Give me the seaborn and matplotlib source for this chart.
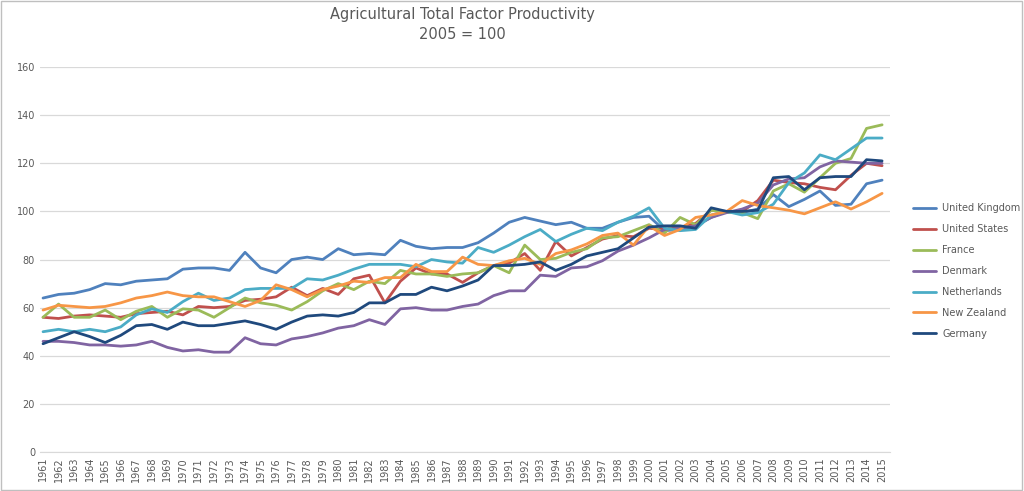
import pandas as pd
import matplotlib
matplotlib.use("Agg")
import matplotlib.pyplot as plt
import seaborn as sns
from matplotlib.patches import Rectangle

years = list(range(1961, 2016))

united_kingdom = [64, 65.5, 66, 67.5, 70, 69.5, 71, 71.5, 72, 76,
                  76.5, 76.5, 75.5, 83, 76.5, 74.5, 80, 81, 80, 84.5,
                  82, 82.5, 82, 88, 85.5, 84.5, 85, 85, 87, 91,
                  95.5, 97.5, 96, 94.5, 95.5, 93, 93, 95.5, 97.5, 98,
                  92, 92.5, 94, 97.5, 100, 99.5, 101, 107, 102, 105,
                  108.5, 102.5, 103, 111.5, 113]
united_states = [56, 55.5, 56.5, 57, 56.5, 56, 57.5, 58, 58.5, 57,
                 60.5, 60, 60.5, 63, 63.5, 64.5, 68.5, 65, 68, 65.5,
                 72, 73.5, 62, 71, 76.5, 74, 74, 70.5, 74.5, 77.5,
                 78.5, 82.5, 75.5, 87.5, 81.5, 85, 88.5, 90, 89.5, 93,
                 92.5, 93.5, 95, 100.5, 100, 100, 104.5, 113, 112, 111.5,
                 110, 109, 115, 120, 119]
france = [56, 61.5, 56, 56, 59, 55, 58.5, 60.5, 56, 59.5,
          59, 56, 60, 64, 62, 61, 59, 62.5, 67, 70,
          67.5, 71, 70, 75.5, 74, 74, 73, 74, 74.5, 77.5,
          74.5, 86, 80, 80.5, 83, 84.5, 89, 89.5, 92, 94.5,
          91, 97.5, 94.5, 100.5, 99.5, 99.5, 97, 108.5, 111.5, 108,
          114, 120, 122, 134.5, 136]
denmark = [46, 46, 45.5, 44.5, 44.5, 44, 44.5, 46, 43.5, 42,
           42.5, 41.5, 41.5, 47.5, 45, 44.5, 47, 48, 49.5, 51.5,
           52.5, 55, 53, 59.5, 60, 59, 59, 60.5, 61.5, 65,
           67, 67, 73.5, 73, 76.5, 77, 79.5, 83.5, 86, 89,
           92.5, 93, 94, 97.5, 99.5, 101, 103.5, 111, 113.5, 114,
           118.5, 121, 120.5, 120, 120]
netherlands = [50, 51, 50, 51, 50, 52, 57, 59.5, 58, 62.5,
               66, 63, 64, 67.5, 68, 68, 68, 72, 71.5, 73.5,
               76, 78, 78, 78, 77, 80, 79, 78.5, 85, 83,
               86, 89.5, 92.5, 87.5, 90.5, 93, 92, 95.5, 98, 101.5,
               93, 92, 92.5, 98.5, 100, 98.5, 99.5, 103, 112, 116,
               123.5, 121.5, 126, 130.5, 130.5]
new_zealand = [59, 61, 60.5, 60, 60.5, 62, 64, 65, 66.5, 65,
               64.5, 64.5, 62.5, 60.5, 63, 69.5, 67.5, 64.5, 67.5, 69,
               71, 70.5, 72.5, 72.5, 78, 75, 75, 81, 78, 77.5,
               79.5, 80.5, 78, 82.5, 84, 86.5, 90, 91, 86, 94,
               90, 92.5, 97.5, 98.5, 100, 104.5, 102.5, 101.5, 100.5, 99,
               101.5, 104, 101, 104, 107.5]
germany = [45, 47.5, 50, 48, 45.5, 48.5, 52.5, 53, 51, 54,
           52.5, 52.5, 53.5, 54.5, 53, 51, 54, 56.5, 57, 56.5,
           58, 62, 62, 65.5, 65.5, 68.5, 67, 69, 71.5, 77.5,
           77.5, 78, 79, 75.5, 78, 81.5, 83, 84.5, 89, 93.5,
           94, 94, 93, 101.5, 100, 100, 100.5, 114, 114.5, 109,
           114, 114.5, 114.5, 121.5, 121]

countries = ["United Kingdom", "United States", "France", "Denmark",
             "Netherlands", "New Zealand", "Germany"]
series = [united_kingdom, united_states, france, denmark,
          netherlands, new_zealand, germany]
colors = ["#4F81BD", "#C0504D", "#9BBB59", "#8064A2",
          "#4BACC6", "#F79646", "#1F497D"]

# long format for seaborn
frames = []
for name, vals in zip(countries, series):
    frames.append(pd.DataFrame({"Year": years, "TFP": vals, "Country": name}))
df = pd.concat(frames, ignore_index=True)

sns.set_style("white")
fig = plt.figure(figsize=(10.24, 4.91), dpi=100)
ax = fig.add_axes([0.039, 0.0794, 0.830, 0.784])

sns.lineplot(data=df, x="Year", y="TFP", hue="Country",
             palette=dict(zip(countries, colors)), linewidth=2.0,
             ax=ax, legend=True)

ax.set_ylim(0, 160)
ax.set_xlim(1960.8, 2015.5)
ax.set_yticks(range(0, 161, 20))
ax.set_xticks(years)
ax.set_xticklabels([str(y) for y in years], rotation=90)
ax.tick_params(axis="both", labelsize=7, colors="#595959", length=0)
ax.grid(axis="y", color="#D9D9D9", linewidth=0.9)
ax.set_axisbelow(True)
for side in ["left", "right", "top"]:
    ax.spines[side].set_visible(False)
ax.spines["bottom"].set_color("#D9D9D9")
ax.set_xlabel("")
ax.set_ylabel("")

fig.suptitle("Agricultural Total Factor Productivity\n2005 = 100",
             x=0.452, y=0.985, fontsize=10.5, color="#595959",
             linespacing=1.35)

handles, labels = ax.get_legend_handles_labels()
ax.legend_.remove()
fig.legend(handles, labels, loc="center left", bbox_to_anchor=(0.883, 0.448),
           frameon=False, fontsize=7, labelspacing=1.12, handlelength=2.4,
           handletextpad=0.6, labelcolor="#595959")

fig.patches.append(Rectangle((0.001, 0.002), 0.997, 0.995, transform=fig.transFigure,
                             fill=False, edgecolor="#BFBFBF", linewidth=1))

fig.savefig("out.png", dpi=100)
